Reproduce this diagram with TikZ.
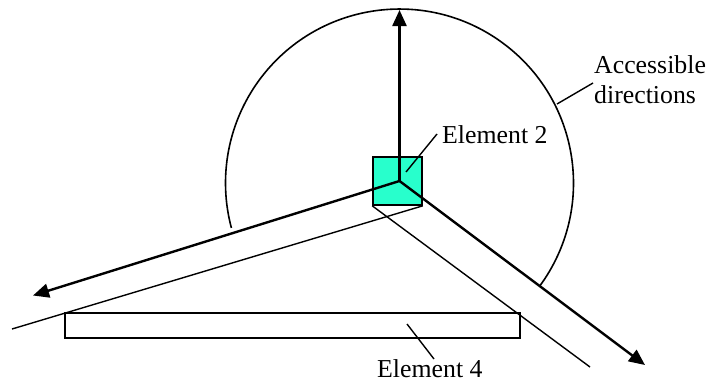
\documentclass[tikz,border=0pt]{standalone}
\usepackage{fontspec}
\setmainfont{Liberation Serif}
\usetikzlibrary{arrows.meta}
\definecolor{elemgreen}{RGB}{40,255,204}
\begin{document}
\begin{tikzpicture}[x=1pt,y=-1pt,
  dirarrow/.style={line width=2.4pt,-{Triangle[length=16pt,width=14pt]}},
  thinline/.style={line width=1.4pt},
  leader/.style={line width=1.4pt},
  arcline/.style={line width=1.6pt},
  lbl/.style={inner sep=0pt,anchor=base west,font=\fontsize{25.8}{30}\selectfont},
  elembox/.style={draw,line width=1.6pt,inner sep=0pt},
]
\useasboundingbox (0,0) rectangle (712,383);
% elements
\node[elembox,fill=elemgreen,minimum width=49pt,minimum height=48pt] (sq) at (397.5,181) {};
\node[elembox,minimum width=455pt,minimum height=25pt] (el4) at (292.5,325.5) {};
% key points
\coordinate (c) at (399.5,181);
\coordinate (up) at (399.5,10);
\coordinate (lt) at (33,295.5);
\coordinate (rt) at (645,365);
\coordinate (ltend) at (12,329);
\coordinate (rtend) at (590,367);
\coordinate (arcR) at (539.9,285.8);
% accessible directions arc
\draw[arcline] (arcR) arc[start angle=-36.2, end angle=194.95, radius=174pt];
% thin band lines
\draw[thinline] (sq.south east) -- (ltend);
\draw[thinline] (sq.south west) -- (rtend);
% direction arrows
\draw[dirarrow] (c) -- (up);
\draw[dirarrow] (c) -- (lt);
\draw[dirarrow] (c) -- (rt);
% labels
\node[lbl] (l2) at (442,143) {Element 2};
\node[lbl] (la1) at (594,73) {Accessible};
\node[lbl] (la2) at (594,103) {directions};
\node[lbl] (l4) at (377,377) {Element 4};
% leaders
\coordinate (p2) at (406,172);
\coordinate (q2) at (437,134);
\coordinate (pa) at (557,104);
\coordinate (qa) at (593,83);
\coordinate (p4) at (407,324);
\coordinate (q4) at (434,359);
\draw[leader] (p2) -- (q2);
\draw[leader] (pa) -- (qa);
\draw[leader] (p4) -- (q4);
\end{tikzpicture}
\end{document}
